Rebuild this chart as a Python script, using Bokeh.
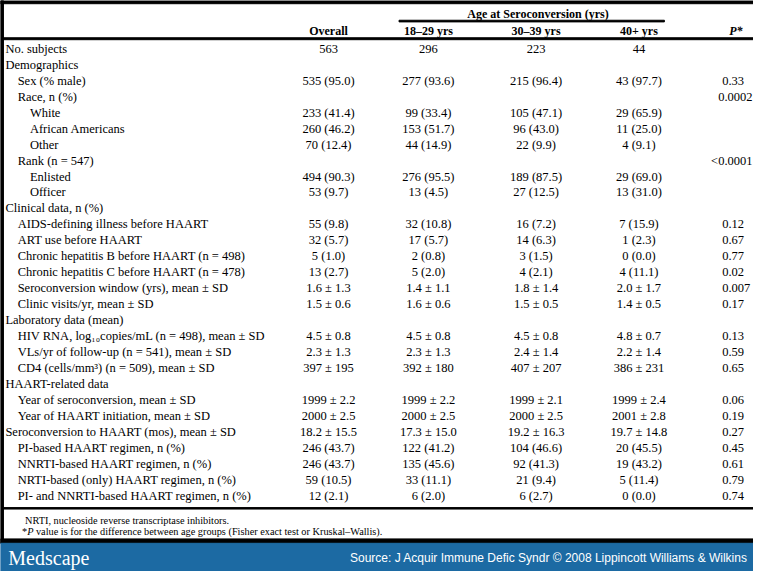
from bokeh.plotting import figure
from bokeh.models import Range1d, ColumnDataSource
from bokeh.core.properties import value
from bokeh.embed import file_html
from bokeh.resources import INLINE

# ---------------- data ----------------
row_labels = [
    "No. subjects", "Demographics", "Sex (% male)", "Race, n (%)", "White",
    "African Americans", "Other", "Rank (n = 547)", "Enlisted", "Officer",
    "Clinical data, n (%)", "AIDS-defining illness before HAART",
    "ART use before HAART", "Chronic hepatitis B before HAART (n = 498)",
    "Chronic hepatitis C before HAART (n = 478)",
    "Seroconversion window (yrs), mean \u00b1 SD", "Clinic visits/yr, mean \u00b1 SD",
    "Laboratory data (mean)",
    "HIV RNA, log\u2081\u2080copies/mL (n = 498), mean \u00b1 SD",
    "VLs/yr of follow-up (n = 541), mean \u00b1 SD",
    "CD4 (cells/mm\u00b3) (n = 509), mean \u00b1 SD",
    "HAART-related data", "Year of seroconversion, mean \u00b1 SD",
    "Year of HAART initiation, mean \u00b1 SD",
    "Seroconversion to HAART (mos), mean \u00b1 SD",
    "PI-based HAART regimen, n (%)", "NNRTI-based HAART regimen, n (%)",
    "NRTI-based (only) HAART regimen, n (%)",
    "PI- and NNRTI-based HAART regimen, n (%)",
]
row_indent = [0, 0, 1, 1, 2, 2, 2, 1, 2, 2, 0, 1, 1, 1, 1, 1, 1, 0, 1, 1, 1, 0, 1, 1, 0, 1, 1, 1, 1]

overall = ["563", "", "535 (95.0)", "", "233 (41.4)", "260 (46.2)", "70 (12.4)", "",
           "494 (90.3)", "53 (9.7)", "", "55 (9.8)", "32 (5.7)", "5 (1.0)", "13 (2.7)",
           "1.6 \u00b1 1.3", "1.5 \u00b1 0.6", "", "4.5 \u00b1 0.8", "2.3 \u00b1 1.3",
           "397 \u00b1 195", "", "1999 \u00b1 2.2", "2000 \u00b1 2.5", "18.2 \u00b1 15.5",
           "246 (43.7)", "246 (43.7)", "59 (10.5)", "12 (2.1)"]
age_18_29 = ["296", "", "277 (93.6)", "", "99 (33.4)", "153 (51.7)", "44 (14.9)", "",
             "276 (95.5)", "13 (4.5)", "", "32 (10.8)", "17 (5.7)", "2 (0.8)", "5 (2.0)",
             "1.4 \u00b1 1.1", "1.6 \u00b1 0.6", "", "4.5 \u00b1 0.8", "2.3 \u00b1 1.3",
             "392 \u00b1 180", "", "1999 \u00b1 2.2", "2000 \u00b1 2.5", "17.3 \u00b1 15.0",
             "122 (41.2)", "135 (45.6)", "33 (11.1)", "6 (2.0)"]
age_30_39 = ["223", "", "215 (96.4)", "", "105 (47.1)", "96 (43.0)", "22 (9.9)", "",
             "189 (87.5)", "27 (12.5)", "", "16 (7.2)", "14 (6.3)", "3 (1.5)", "4 (2.1)",
             "1.8 \u00b1 1.4", "1.5 \u00b1 0.5", "", "4.5 \u00b1 0.8", "2.4 \u00b1 1.4",
             "407 \u00b1 207", "", "1999 \u00b1 2.1", "2000 \u00b1 2.5", "19.2 \u00b1 16.3",
             "104 (46.6)", "92 (41.3)", "21 (9.4)", "6 (2.7)"]
age_40_plus = ["44", "", "43 (97.7)", "", "29 (65.9)", "11 (25.0)", "4 (9.1)", "",
               "29 (69.0)", "13 (31.0)", "", "7 (15.9)", "1 (2.3)", "0 (0.0)", "4 (11.1)",
               "2.0 \u00b1 1.7", "1.4 \u00b1 0.5", "", "4.8 \u00b1 0.7", "2.2 \u00b1 1.4",
               "386 \u00b1 231", "", "1999 \u00b1 2.4", "2001 \u00b1 2.8", "19.7 \u00b1 14.8",
               "20 (45.5)", "19 (43.2)", "5 (11.4)", "0 (0.0)"]
p_values = ["", "", "0.33", "0.0002", "", "", "", "<0.0001", "", "", "", "0.12", "0.67",
            "0.77", "0.02", "0.007", "0.17", "", "0.13", "0.59", "0.65", "", "0.06",
            "0.19", "0.27", "0.45", "0.61", "0.79", "0.74"]

column_headers = ["Overall", "18\u201329 yrs", "30\u201339 yrs", "40+ yrs"]
spanner_header = "Age at Seroconversion (yrs)"
p_header = "P*"
footnote_1 = "NRTI, nucleoside reverse transcriptase inhibitors."
footnote_2_parts = ["*", "P", "value is for the difference between age groups (Fisher exact test or Kruskal\u2013Wallis)."]
brand = "Medscape"
source_text = "Source: J Acquir Immune Defic Syndr \u00a9 2008 Lippincott Williams & Wilkins"

# ---------------- layout ----------------
SERIF = value("Liberation Serif")
SANS = value("Liberation Sans")
ROW_Y0, ROW_DY = 49.5, 16.43
col_x = [335, 437, 547, 652]
BODY = "12.5px"

p = figure(width=753, height=571, x_range=Range1d(0, 769), y_range=Range1d(587, 0),
           x_axis_type=None, y_axis_type=None, output_backend="svg",
           toolbar_location=None, min_border=0, outline_line_color=None)
p.grid.visible = False
p.background_fill_color = "white"
p.border_fill_color = "white"

# rules and borders
p.quad(left=[0], right=[769], top=[0.3], bottom=[3.3], color="black")
p.quad(left=[0], right=[3], top=[0], bottom=[558], color="black")
p.quad(left=[407], right=[678], top=[20.3], bottom=[22.0], color="black")
p.quad(left=[3], right=[769], top=[38.3], bottom=[40.3], color="black")
p.quad(left=[3], right=[769], top=[521.3], bottom=[522.8], color="black")
p.quad(left=[0], right=[769], top=[553.5], bottom=[558], color="black")
p.quad(left=[0], right=[769], top=[558], bottom=[587], color="#1c6aa3")

rows_y = [ROW_Y0 + i * ROW_DY for i in range(len(row_labels))]

# row labels
src_lab = ColumnDataSource(dict(
    x=[5 + 12.5 * k for k in row_indent], y=rows_y, t=row_labels))
p.text(x="x", y="y", text="t", source=src_lab, text_font=SERIF, text_font_size=BODY,
       text_baseline="middle", text_align="left", text_color="black")

# value columns
for cx, col in zip(col_x, [overall, age_18_29, age_30_39, age_40_plus]):
    xs, ys, ts = [], [], []
    for yy, t in zip(rows_y, col):
        if t:
            xs.append(cx); ys.append(yy); ts.append(t)
    p.text(x=xs, y=ys, text=ts, text_font=SERIF, text_font_size=BODY,
           text_baseline="middle", text_align="center", text_color="black")

# p values
xs_l, ys_l, ts_l, xs_r, ys_r, ts_r = [], [], [], [], [], []
for yy, t in zip(rows_y, p_values):
    if not t:
        continue
    if len(t) >= 6:
        xs_r.append(768); ys_r.append(yy); ts_r.append(t)
    else:
        xs_l.append(737); ys_l.append(yy); ts_l.append(t)
p.text(x=xs_l, y=ys_l, text=ts_l, text_font=SERIF, text_font_size=BODY,
       text_baseline="middle", text_align="left", text_color="black")
p.text(x=xs_r, y=ys_r, text=ts_r, text_font=SERIF, text_font_size=BODY,
       text_baseline="middle", text_align="right", text_color="black")

# headers
p.text(x=col_x, y=[31.5] * 4, text=column_headers, text_font=SERIF, text_font_size="12px",
       text_font_style="bold", text_baseline="middle", text_align="center", text_color="black")
p.text(x=[549], y=[13.5], text=[spanner_header], text_font=SERIF, text_font_size="12px",
       text_font_style="bold", text_baseline="middle", text_align="center", text_color="black")
p.text(x=[751], y=[31.5], text=[p_header], text_font=SERIF, text_font_size="12px",
       text_font_style="bold italic", text_baseline="middle", text_align="center", text_color="black")

# footnotes
FN = "10.3px"
p.text(x=[25], y=[535], text=[footnote_1], text_font=SERIF, text_font_size=FN,
       text_baseline="middle", text_align="left", text_color="black")
p.text(x=[22], y=[546], text=[footnote_2_parts[0]], text_font=SERIF, text_font_size=FN,
       text_baseline="middle", text_align="left", text_color="black")
p.text(x=[27.3], y=[546], text=[footnote_2_parts[1]], text_font=SERIF, text_font_size=FN,
       text_font_style="italic", text_baseline="middle", text_align="left", text_color="black")
p.text(x=[36.2], y=[546], text=[footnote_2_parts[2]], text_font=SERIF, text_font_size=FN,
       text_baseline="middle", text_align="left", text_color="black")

# footer band texts
p.text(x=[8], y=[573], text=[brand], text_font=SERIF, text_font_size="20px",
       text_baseline="middle", text_align="left", text_color="white")
p.text(x=[763], y=[573], text=[source_text], text_font=SANS, text_font_size="12px",
       text_baseline="middle", text_align="right", text_color="white")

open("out.html", "w").write(file_html(p, INLINE))
